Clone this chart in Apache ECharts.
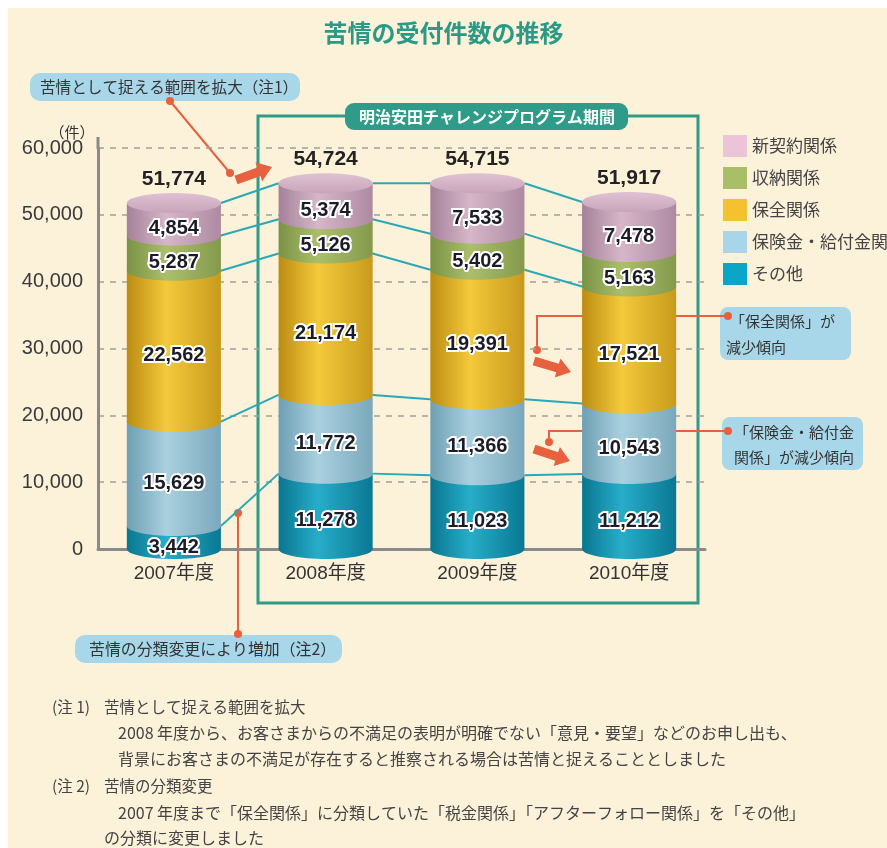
<!DOCTYPE html>
<html>
<head>
<meta charset="utf-8">
<script src="https://cdn.jsdelivr.net/npm/echarts@6/dist/echarts.min.js"></script>
<style>
html, body { margin: 0; padding: 0; background: #fcf1d9; }
#chart { width: 887px; height: 848px; }
</style>
</head>
<body>
<div id="chart"></div>
<script>
// chart data (件)
const categories = ['2007年度', '2008年度', '2009年度', '2010年度']
const sonota = [3442, 11278, 11023, 11212]        // その他
const hokenkin = [15629, 11772, 11366, 10543]     // 保険金・給付金関係
const hozen = [22562, 21174, 19391, 17521]        // 保全関係
const shuno = [5287, 5126, 5402, 5163]            // 収納関係
const shinkeiyaku = [4854, 5374, 7533, 7478]      // 新契約関係
const seriesNames = ['その他', '保険金・給付金関係', '保全関係', '収納関係', '新契約関係']
const legendOrder = ['新契約関係', '収納関係', '保全関係', '保険金・給付金関係', 'その他']
const yMax = 60000
const yStep = 10000

const stackData = [sonota, hokenkin, hozen, shuno, shinkeiyaku]

// colors for each layer, bottom to top
const shades = [
    { legend: '#0ba6c7', edge: '#0a7690', mid: '#27adc9', edge2: '#0a7893' },
    { legend: '#a7d5e9', edge: '#6e9fb3', mid: '#a9d0df', edge2: '#7aa8bb' },
    { legend: '#f3c22e', edge: '#bc8c12', mid: '#f4c93b', edge2: '#c89a1c' },
    { legend: '#a9bf67', edge: '#7a9245', mid: '#abbf6b', edge2: '#84994c' },
    { legend: '#ecc4d7', edge: '#a4819a', mid: '#d7b6c8', edge2: '#ad8aa2' }
]

const BAR_RATIO = 0.62
const RY = 10
const RED = '#e8613f'
const BOX = '#a8d7ea'
const TEAL = '#2e9c88'
const LABEL_FONT = "'Liberation Sans', Arial, sans-serif"
const JP_FONT = "'Noto Sans CJK JP', sans-serif"

function commas(v) {
    return String(v).replace(/\B(?=(\d{3})+(?!\d))/g, ',')
}

// cumulative tops for each layer
function cumulative() {
    let result = []
    for (let k = 0; k < stackData.length; k++) {
        let row = []
        for (let i = 0; i < categories.length; i++) {
            let prev = k == 0 ? 0 : result[k - 1][i]
            row.push(prev + stackData[k][i])
        }
        result.push(row)
    }
    return result
}
const cum = cumulative()

// one cylinder piece
function makeRenderer(k) {
    const shade = shades[k]
    const isTop = k == stackData.length - 1
    return function (params, api) {
        let cat = api.value(0)
        let base = api.value(1)
        let val = api.value(2)
        let top = api.coord([cat, base + val])
        let bottom = api.coord([cat, base])
        let w = api.size([1, 0])[0] * BAR_RATIO
        let cx = top[0]
        let left = cx - w / 2
        let fill = {
            type: 'linear', x: 0, y: 0, x2: 1, y2: 0,
            colorStops: [
                { offset: 0, color: shade.edge },
                { offset: 0.42, color: shade.mid },
                { offset: 1, color: shade.edge2 }
            ]
        }
        let children = [
            { type: 'rect', shape: { x: left, y: top[1], width: w, height: bottom[1] - top[1] }, style: { fill: fill } },
            { type: 'ellipse', shape: { cx: cx, cy: bottom[1], rx: w / 2, ry: RY }, style: { fill: fill } }
        ]
        if (isTop) {
            children.push({
                type: 'ellipse', shape: { cx: cx, cy: top[1], rx: w / 2, ry: RY },
                style: {
                    fill: {
                        type: 'linear', x: 0, y: 0, x2: 0, y2: 1,
                        colorStops: [{ offset: 0, color: '#dec2d2' }, { offset: 1, color: '#c9a4ba' }]
                    }
                }
            })
            children.push({
                type: 'text', x: cx, y: top[1] - 24, z2: 20,
                style: {
                    text: commas(base + val), fill: '#222', align: 'center', verticalAlign: 'middle',
                    font: 'bold 21px ' + LABEL_FONT
                }
            })
        }
        children.push({
            type: 'text', x: cx, y: (top[1] + bottom[1]) / 2 + RY * 0.95, z2: 20,
            style: {
                text: commas(val), fill: '#1c1c28', align: 'center', verticalAlign: 'middle',
                font: 'bold 20px ' + LABEL_FONT,
                stroke: '#ffffff', lineWidth: 4, strokeFirst: true, lineJoin: 'round'
            }
        })
        return { type: 'group', children: children }
    }
}

// teal lines joining the layer boundaries of neighbouring bars
function renderConnector(params, api) {
    let i = api.value(0)
    let a = api.coord([i, api.value(1)])
    let b = api.coord([i + 1, api.value(2)])
    let hw = api.size([1, 0])[0] * BAR_RATIO / 2
    return {
        type: 'line',
        shape: { x1: a[0] + hw, y1: a[1], x2: b[0] - hw, y2: b[1] },
        style: { stroke: '#2aa8b8', lineWidth: 2 }
    }
}

function connectorData() {
    let out = []
    for (let i = 0; i < categories.length - 1; i++) {
        for (let k = 0; k < cum.length; k++) {
            out.push([i, cum[k][i], cum[k][i + 1]])
        }
    }
    return out
}

function arrowPoints(x1, y1, x2, y2) {
    let dx = x2 - x1, dy = y2 - y1
    let len = Math.sqrt(dx * dx + dy * dy)
    let ux = dx / len, uy = dy / len, nx = -uy, ny = ux
    let body = 4.5, head = 10, headLen = 14
    let bx = x2 - ux * headLen, by = y2 - uy * headLen
    return [
        [x1 + nx * body, y1 + ny * body],
        [bx + nx * body, by + ny * body],
        [bx + nx * head, by + ny * head],
        [x2, y2],
        [bx - nx * head, by - ny * head],
        [bx - nx * body, by - ny * body],
        [x1 - nx * body, y1 - ny * body]
    ]
}

function txt(x, y, text, size, color, align, weight) {
    return {
        type: 'text', x: x, y: y,
        style: {
            text: text, fill: color || '#333', align: align || 'left', verticalAlign: 'middle',
            textAlign: align || 'left', textVerticalAlign: 'middle',
            font: (weight || 'normal') + ' ' + size + 'px ' + JP_FONT
        }
    }
}
function dot(x, y) {
    return { type: 'circle', shape: { cx: x, cy: y, r: 4 }, style: { fill: RED } }
}
function redLine(points) {
    return { type: 'polyline', shape: { points: points }, style: { stroke: RED, lineWidth: 2, fill: null } }
}

const annotations = [
    // white page margins
    { type: 'rect', shape: { x: 0, y: 0, width: 887, height: 8 }, style: { fill: '#ffffff' } },
    { type: 'rect', shape: { x: 0, y: 0, width: 8, height: 848 }, style: { fill: '#ffffff' } },
    // program period frame
    { type: 'rect', shape: { x: 258, y: 116, width: 440, height: 487 }, style: { fill: null, stroke: TEAL, lineWidth: 3 } },
    { type: 'rect', shape: { x: 345, y: 103, width: 283, height: 27, r: 9 }, style: { fill: TEAL } },
    txt(487, 117, '明治安田チャレンジプログラム期間', 16, '#ffffff', 'center', 'bold'),
    // y axis unit + axis top
    txt(72, 132, '（件）', 15, '#333', 'center'),
    { type: 'line', shape: { x1: 98, y1: 137, x2: 98, y2: 149 }, style: { stroke: '#8a8a8a', lineWidth: 3 } },
    // note 1 callout
    { type: 'rect', shape: { x: 30, y: 73, width: 270, height: 28, r: 10 }, style: { fill: BOX } },
    txt(40, 87, '苦情として捉える範囲を拡大（注1）', 15.6, '#333'),
    redLine([[170, 101], [230, 173]]), dot(170, 101), dot(230, 173),
    { type: 'polygon', shape: { points: arrowPoints(236, 180, 272, 167) }, style: { fill: RED } },
    // 保全関係 callout
    { type: 'rect', shape: { x: 720, y: 307, width: 131, height: 53, r: 8 }, style: { fill: BOX } },
    txt(730, 321, '「保全関係」が', 15, '#333'),
    txt(726, 347, '減少傾向', 15, '#333'),
    redLine([[728, 316], [537, 316], [537, 350]]), dot(728, 316), dot(537, 350),
    { type: 'polygon', shape: { points: arrowPoints(534, 361, 571, 372) }, style: { fill: RED } },
    // 保険金・給付金関係 callout
    { type: 'rect', shape: { x: 722, y: 417, width: 141, height: 53, r: 8 }, style: { fill: BOX } },
    txt(734, 432, '「保険金・給付金', 15, '#333'),
    txt(734, 457, '関係」が減少傾向', 15, '#333'),
    redLine([[728, 431], [549, 431], [549, 442]]), dot(728, 431), dot(549, 442),
    { type: 'polygon', shape: { points: arrowPoints(534, 449, 570, 461) }, style: { fill: RED } },
    // note 2 callout
    { type: 'rect', shape: { x: 75, y: 635, width: 267, height: 28, r: 10 }, style: { fill: BOX } },
    txt(89, 649, '苦情の分類変更により増加（注2）', 15.9, '#333'),
    redLine([[238, 513], [238, 634]]), dot(238, 513), dot(238, 634),
    // notes
    txt(52, 707, '(注 1)', 15.5, '#444'),
    txt(104, 707, '苦情として捉える範囲を拡大', 15.5, '#444'),
    txt(118, 733, '2008 年度から、お客さまからの不満足の表明が明確でない「意見・要望」などのお申し出も、', 16, '#444'),
    txt(118, 759, '背景にお客さまの不満足が存在すると推察される場合は苦情と捉えることとしました', 16, '#444'),
    txt(52, 786, '(注 2)', 15.5, '#444'),
    txt(104, 786, '苦情の分類変更', 15.5, '#444'),
    txt(118, 813, '2007 年度まで「保全関係」に分類していた「税金関係」「アフターフォロー関係」を「その他」', 16, '#444'),
    txt(104, 838, 'の分類に変更しました', 16, '#444')
]

function buildSeries() {
    let series = [{
        name: 'connectors',
        type: 'custom',
        renderItem: renderConnector,
        data: connectorData(),
        z: 1,
        silent: true
    }]
    for (let k = 0; k < stackData.length; k++) {
        let data = []
        for (let i = 0; i < categories.length; i++) {
            let base = k == 0 ? 0 : cum[k - 1][i]
            data.push([i, base, stackData[k][i]])
        }
        series.push({
            name: seriesNames[k],
            type: 'custom',
            renderItem: makeRenderer(k),
            itemStyle: { color: shades[k].legend },
            data: data,
            z: 2
        })
    }
    return series
}

function createChart() {
    var dom = document.getElementById('chart')
    var chart = echarts.init(dom, null, { renderer: 'canvas' })
    var option = {
        backgroundColor: '#fcf1d9',
        animation: false,
        textStyle: { fontFamily: "'Liberation Sans', 'Noto Sans CJK JP', sans-serif" },
        title: {
            text: '苦情の受付件数の推移',
            left: 'center',
            top: 16,
            textStyle: { fontSize: 24, fontWeight: 'bold', color: '#2a9a86', fontFamily: JP_FONT }
        },
        legend: {
            data: legendOrder,
            orient: 'vertical',
            left: 723,
            top: 135,
            padding: 0,
            icon: 'rect',
            itemWidth: 24,
            itemHeight: 22,
            itemGap: 10,
            selectedMode: false,
            textStyle: { fontSize: 17, color: '#444', fontFamily: JP_FONT }
        },
        grid: { left: 98, right: 182, top: 148, bottom: 299 },
        xAxis: {
            type: 'category',
            data: categories,
            axisLine: { lineStyle: { color: '#8a8a8a', width: 3 } },
            axisTick: { inside: true, length: 9, lineStyle: { color: '#8a8a8a', width: 2 } },
            axisLabel: { fontSize: 19, color: '#333', margin: 15 }
        },
        yAxis: {
            type: 'value',
            min: 0,
            max: yMax,
            interval: yStep,
            axisLine: { show: true, lineStyle: { color: '#8a8a8a', width: 3 } },
            axisTick: { show: false },
            splitLine: { lineStyle: { color: '#a3a09a', width: 1.5, type: [6, 6] } },
            axisLabel: { fontSize: 20, color: '#3a3a3a', margin: 15, padding: [10, 0, 0, 0], formatter: commas }
        },
        graphic: { elements: annotations },
        series: buildSeries()
    }
    chart.setOption(option)
}

createChart()
</script>
</body>
</html>
